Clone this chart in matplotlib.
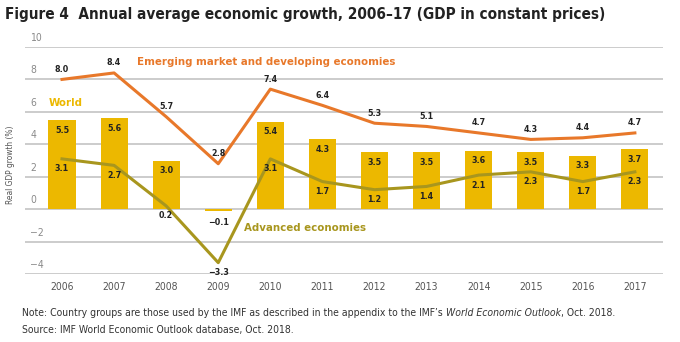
import matplotlib.pyplot as plt
import numpy as np

# ========== DATA ==========
years = ["2006", "2007", "2008", "2009", "2010", "2011",
         "2012", "2013", "2014", "2015", "2016", "2017"]
world = [5.5, 5.6, 3.0, -0.1, 5.4, 4.3, 3.5, 3.5, 3.6, 3.5, 3.3, 3.7]
emerging = [8.0, 8.4, 5.7, 2.8, 7.4, 6.4, 5.3, 5.1, 4.7, 4.3, 4.4, 4.7]
advanced = [3.1, 2.7, 0.2, -3.3, 3.1, 1.7, 1.2, 1.4, 2.1, 2.3, 1.7, 2.3]
yticks = [-4, -2, 0, 2, 4, 6, 8, 10]

# ========== STYLE ==========
GOLD = "#ECB800"
ORANGE = "#E8782A"
OLIVE = "#A8961E"
GRID = "#C4C4C4"
DARK = "#222222"

plt.rcParams["font.family"] = ["DejaVu Sans"]
plt.rcParams["font.stretch"] = "condensed"

fig = plt.figure(figsize=(6.8, 3.42), dpi=100)
ax = fig.add_axes([0.0368, 0.1988, 0.975 - 0.0368, 0.8626 - 0.1988])

x = np.arange(len(years))

# gridlines
for t in yticks:
    ax.axhline(t, color=GRID, lw=1.2, zorder=0)
    ax.text(0.008, t + 0.25, f"{t}".replace("-", "\u2212"), transform=ax.get_yaxis_transform(),
            ha="left", va="bottom", fontsize=7.5, color="#8a8a8a")

# bars + lines
ax.bar(x, world, width=0.52, color=GOLD, zorder=1)
ax.plot(x, emerging, color=ORANGE, lw=2.2, zorder=2)
ax.plot(x, advanced, color=OLIVE, lw=2.2, zorder=2)

# value labels
lab = dict(fontsize=6.4, fontweight="bold", color=DARK, ha="center")
for xi, v in zip(x, world):
    if v >= 0:
        ax.annotate(f"{v:.1f}", (xi, v), xytext=(0, -4), textcoords="offset points", va="top", **lab)
    else:
        ax.annotate(f"{v:.1f}".replace("-", "\u2212"), (xi, v), xytext=(0, -5),
                    textcoords="offset points", va="top", **lab)
for xi, v in zip(x, emerging):
    ax.annotate(f"{v:.1f}", (xi, v), xytext=(0, 4), textcoords="offset points", va="bottom", **lab)
for xi, v in zip(x, advanced):
    ax.annotate(f"{v:.1f}".replace("-", "\u2212"), (xi, v), xytext=(0, -4),
                textcoords="offset points", va="top", **lab)

# series names
name_kw = dict(fontsize=8.2, fontweight="bold", va="center", ha="left")
ax.text(1.445, 9.08, "Emerging market and developing economies", color=ORANGE, **name_kw)
ax.text(-0.26, 6.55, "World", color=GOLD, **name_kw)
ax.text(3.5, -1.14, "Advanced economies", color=OLIVE, **name_kw)

# axes
ax.set_xlim(-0.71, 11.54)
ax.set_ylim(-4, 10)
ax.set_xticks(x)
ax.set_xticklabels(years, fontsize=7.5, color="#555555")
ax.tick_params(axis="x", length=0, pad=6)
ax.set_yticks([])
for s in ax.spines.values():
    s.set_visible(False)

fig.text(0.015, 0.517, "Real GDP growth (%)", rotation=90, ha="center", va="center",
         fontsize=6, color="#555555")

# title
fig.text(0.007, 0.958, "Figure 4  Annual average economic growth, 2006\u201317 (GDP in constant prices)",
         fontsize=11, fontweight="bold", color=DARK, va="center", ha="left")

# notes
note_kw = dict(fontsize=7.5, color="#333333")
t1 = fig.text(0.033, 0.085, "Note: Country groups are those used by the IMF as described in the appendix to the IMF\u2019s ",
              va="center", ha="left", **note_kw)
t2 = fig.text(0, 0, "World Economic Outlook", style="italic", **note_kw)
t3 = fig.text(0, 0, ", Oct. 2018.", **note_kw)
fig.canvas.draw()
r = fig.canvas.get_renderer()
bb = t1.get_window_extent(r).transformed(fig.transFigure.inverted())
t2.set_position((bb.x1, 0.085))
t2.set_va("center")
fig.canvas.draw()
bb = t2.get_window_extent(r).transformed(fig.transFigure.inverted())
t3.set_position((bb.x1, 0.085))
t3.set_va("center")
fig.text(0.033, 0.035, "Source: IMF World Economic Outlook database, Oct. 2018.",
         va="center", ha="left", **note_kw)

fig.savefig("out.png", dpi=100)
